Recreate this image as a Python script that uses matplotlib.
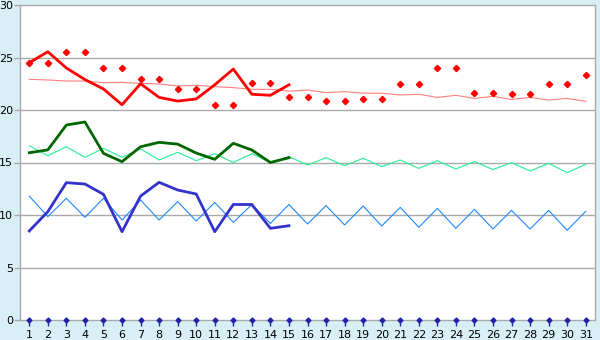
import matplotlib
matplotlib.use("Agg")
import matplotlib.pyplot as plt
import numpy as np

days = np.arange(1, 32)

# thick series, first 15 days only
red_thick = [24.5, 25.55, 24.0, 22.9, 22.0, 20.5, 22.5, 21.2, 20.85, 21.05,
             22.4, 23.9, 21.5, 21.4, 22.4]
green_thick = [15.93, 16.2, 18.57, 18.86, 15.87, 15.08, 16.5, 16.92, 16.75, 15.9,
               15.3, 16.83, 16.19, 15.0, 15.46]
blue_thick = [8.48, 10.32, 13.08, 12.95, 11.97, 8.41, 11.8, 13.11, 12.38, 12.0,
              8.41, 11.0, 11.0, 8.73, 8.98]

# red markers, all days
red_points = [24.5, 24.5, 25.55, 25.55, 24.0, 24.0, 23.0, 23.0, 22.0, 22.0,
              20.5, 20.5, 22.6, 22.6, 21.2, 21.2, 20.85, 20.85, 21.05, 21.05,
              22.5, 22.5, 24.0, 24.0, 21.6, 21.6, 21.5, 21.5, 22.45, 22.45, 23.3]

# thin reference lines, all days
pink_thin = [22.92, 22.86, 22.76, 22.76, 22.6, 22.63, 22.54, 22.48, 22.29, 22.35,
             22.22, 22.13, 21.97, 21.97, 21.8, 21.9, 21.65, 21.75, 21.6, 21.6,
             21.43, 21.5, 21.2, 21.4, 21.1, 21.3, 21.0, 21.2, 20.95, 21.1, 20.83]
green_thin = [16.6, 15.65, 16.5, 15.49, 16.35, 15.5, 16.29, 15.24, 15.97, 15.17,
              15.84, 15.0, 15.84, 15.0, 15.56, 14.76, 15.46, 14.7, 15.4, 14.6,
              15.24, 14.44, 15.17, 14.38, 15.08, 14.33, 14.98, 14.19, 14.92, 14.03, 14.83]
blue_thin = [11.8, 9.84, 11.59, 9.78, 11.59, 9.52, 11.43, 9.52, 11.27, 9.43,
             11.2, 9.3, 11.0, 9.2, 11.0, 9.14, 10.89, 9.05, 10.86, 8.95,
             10.73, 8.83, 10.63, 8.73, 10.54, 8.67, 10.44, 8.67, 10.44, 8.54, 10.35]

zero_points = [0] * 31

bg = '#d9eff6'
grid_c = '#aaaaaa'

fig = plt.figure(figsize=(6, 3.4), dpi=100, facecolor=bg)
ax = fig.add_axes([20 / 600, 20 / 340, 575 / 600, 315 / 340])
ax.set_facecolor('white')

for y in range(5, 30, 5):
    ax.axhline(y, color=grid_c, lw=1.0, zorder=1)

ax.plot(days, pink_thin, color='#ff7f7f', lw=0.8, zorder=2)
ax.plot(days, green_thin, color='#22ee99', lw=0.8, zorder=2)
ax.plot(days, blue_thin, color='#1e88ff', lw=0.8, zorder=2)

ax.plot(days[:15], red_thick, color='#ff0000', lw=2.0, zorder=3)
ax.plot(days[:15], green_thick, color='#006600', lw=2.0, zorder=3)
ax.plot(days[:15], blue_thick, color='#3333cc', lw=2.0, zorder=3)

ax.plot(days, red_points, ls='none', marker='D', ms=3.2, color='#ff0000', zorder=4)
ax.plot(days, zero_points, ls='none', marker='D', ms=2.5, color='#2222aa',
        zorder=5, clip_on=False)

ax.set_xlim(0.5, 31.5)
ax.set_ylim(0, 30)
ax.set_xticks(days)
ax.set_yticks(range(0, 31, 5))

for s in ax.spines.values():
    s.set_color(grid_c)
    s.set_linewidth(1.0)

ax.tick_params(axis='x', length=4, width=1, color='#2222aa', pad=3,
               labelsize=8, labelcolor='black')
ax.tick_params(axis='y', length=4, width=1, color=grid_c, pad=1,
               labelsize=8, labelcolor='black')

fig.savefig('out.png', dpi=100, facecolor=bg)
